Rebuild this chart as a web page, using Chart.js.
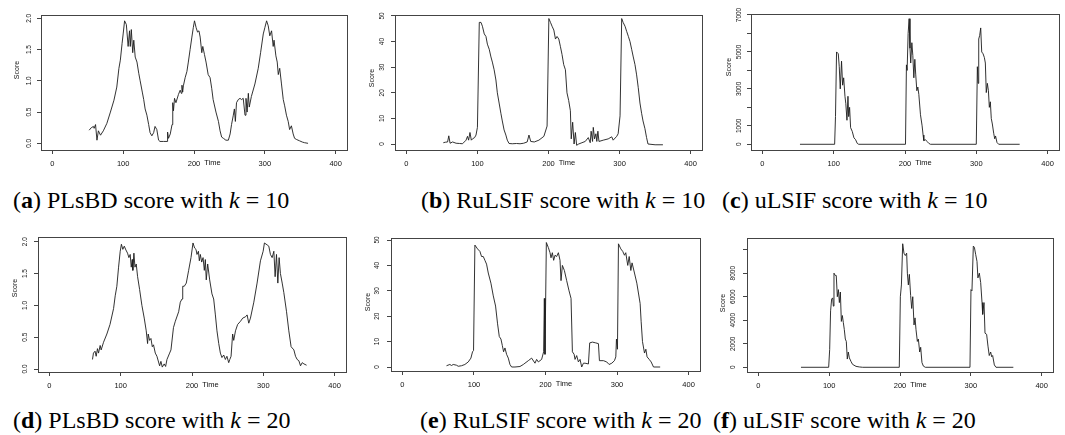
<!DOCTYPE html>
<html><head><meta charset="utf-8">
<script src="https://cdn.jsdelivr.net/npm/chart.js@4.4.1/dist/chart.umd.min.js"></script>
<style>
html,body{margin:0;padding:0;background:#fff;}
body{width:1065px;height:435px;position:relative;overflow:hidden;}
canvas{position:absolute;}
.cap{position:absolute;font-family:"Liberation Serif","Times New Roman",serif;font-size:24px;line-height:24px;white-space:nowrap;color:#000;}
</style></head><body>
<canvas id="ca"></canvas><canvas id="cb"></canvas><canvas id="cc"></canvas>
<canvas id="cd"></canvas><canvas id="ce"></canvas><canvas id="cf"></canvas>
<div class="cap" style="left:13px;top:188px">(<b>a</b>) PLsBD score with <i>k</i> = 10</div>
<div class="cap" style="left:421px;top:188px">(<b>b</b>) RuLSIF score with <i>k</i> = 10</div>
<div class="cap" style="left:722px;top:188px">(<b>c</b>) uLSIF score with <i>k</i> = 10</div>
<div class="cap" style="left:13px;top:408px">(<b>d</b>) PLsBD score with <i>k</i> = 20</div>
<div class="cap" style="left:420px;top:408px">(<b>e</b>) RuLSIF score with <i>k</i> = 20</div>
<div class="cap" style="left:713px;top:408px">(<b>f</b>) uLSIF score with <i>k</i> = 20</div>
<script>
// ---- tick values / labels ----
const xTicks = [0, 100, 200, 300, 400];
const yTicksPL = [0, 0.5, 1, 1.5, 2];
const yLabelsPL = ['0.0', '0.5', '1.0', '1.5', '2.0'];
const yTicksRu = [0, 10, 20, 30, 40, 50];
const yLabelsRu = ['0', '10', '20', '30', '40', '50'];
const yTicksU10 = [0, 1000, 2000, 3000, 4000, 5000, 6000, 7000];
const yLabelsU10 = ['0', '1000', '', '3000', '', '5000', '', '7000'];
const yTicksU20 = [0, 2000, 4000, 6000, 8000, 10000];
const yLabelsU20 = ['0', '2000', '4000', '6000', '8000', ''];

// ---- (a) PLsBD k=10 ----
const timeA = [52,55,58,59,61,63,65,68,72,77,82,87,91,94,96,98.5,100,102,104.5,107,109,110,111.5,113.5,115,117,119.5,122,124,127,129,131,133.5,136,138,140.5,143,145,147.5,150,152,157,162,162.7,164,166.5,169,170,171,172.5,174.5,178,180.5,182,183,184,185,187.5,190,192,194.5,197,199,200.7,203,205,207,208.7,211,212.4,214.8,217,220,222.7,225,227,231,234.5,236.8,239,241.5,245,248.5,251,253,255.5,257,258.4,260,262.5,265,267,269.5,272,273.4,275,276.7,278,281,286,290.7,294,297.8,300,302.5,304.8,307,309.5,311.8,313,315.6,317.5,319,321,323.5,326,328,330.5,333,335,337.5,340,342,345,349,353,356,361];
const scoreA = [0.21,0.25,0.27,0.24,0.3,0.05,0.2,0.13,0.2,0.32,0.5,0.69,0.9,1.2,1.33,1.6,1.75,1.96,1.9,1.55,1.8,1.55,1.82,1.45,1.65,1.38,1.3,1.12,1.0,0.82,0.7,0.55,0.45,0.3,0.17,0.12,0.17,0.27,0.22,0.05,0.03,0.03,0.03,0.18,0.08,0.15,0.3,0.65,0.52,0.72,0.65,0.78,0.85,0.8,0.93,0.82,0.92,1.05,1.15,1.3,1.5,1.7,1.85,1.96,1.85,1.78,1.8,1.7,1.45,1.55,1.42,1.3,1.1,1.05,0.88,0.7,0.5,0.35,0.2,0.1,0.08,0.05,0.05,0.15,0.3,0.45,0.55,0.35,0.65,0.7,0.72,0.7,0.72,0.45,0.72,0.5,0.8,0.58,0.75,0.95,1.2,1.45,1.75,1.85,1.96,1.88,1.72,1.8,1.55,1.65,1.4,1.3,1.1,1.2,0.95,0.7,0.6,0.45,0.35,0.22,0.28,0.15,0.08,0.06,0.04,0.02,0.01,0.0];

// ---- (b) RuLSIF k=10 ----
const timeB = [52,55,58,59.7,61.5,65,70,75,79,84,86,87.6,89.5,91.4,93,96,98,100,102.6,105,107,109.6,112,114,116.6,119,121,123.5,126,128,130.5,133,135,137.5,140,142,144.5,149,155,160,165,170,172.5,175,180,186.5,193.5,198,200.5,202.8,205,207.5,209.8,212,214.5,216.8,219,221.4,223.8,226,228.4,230.8,232,234,236,237.8,239.6,242.4,247,251.7,256,258.7,260,262,263,264.8,266.7,268,269.5,271,277,284,289,291,296,298,300.7,303,305,307.7,310,312.4,314.7,317,319.3,321.7,324,326.3,328.7,331,333,335.7,338,340,350,361];
const scoreB = [0.5,0.7,0.8,3.2,0.3,0.8,0.3,0.2,0.1,1.5,3,1.5,4.5,1.5,2,2.5,3.5,6.5,47.5,47.5,46,43,42,39,37,34,32,29,25,20,16,12,9,5.5,3.5,1.5,0.2,0.1,0.2,0.1,0.3,0.8,3.5,1,0.8,1.5,3,7,49,47.5,46,44.5,41,42,41,38,35,31,29,20,17,13,2,8.5,0,4.5,-0.5,0,0.5,1,2.5,0.5,5,1,6.5,2,4,1,5,1,1.5,2,2.8,1.5,3,4,11,49,47.5,46,44,42,40,37,34,31,27,22,16,12,9,6,2.5,0,-0.3,-0.3];

// ---- (c) uLSIF k=10 ----
const timeC = [52.7,101.3,102.5,104,106.4,107.8,109.2,111,112.5,114,115.8,117,118.6,120,121,122.3,123.7,126,128.4,130.7,133,135,200.7,202,203,204.4,205.8,207,208,209.6,211,212.4,213.8,215,216.6,218,219.4,221.7,224,225.4,226.4,228.7,231,233.4,235.7,300,301.5,302.5,303.4,304.8,306.2,307.6,309.5,311.3,312.7,314,315.5,317,318.3,319.7,321,322.5,324.4,325.8,327,329,331.4,360.8];
const scoreC = [0,0,1500,5000,4900,4200,3000,4500,3200,3600,2600,2200,1300,2600,1500,2000,900,700,350,250,50,0,0,4300,4000,6000,6800,5200,4400,5500,4800,3600,4600,3800,2900,3100,2700,1600,1000,500,200,250,150,50,0,0,4200,3300,5700,5900,6300,5000,4900,4700,4400,2800,3300,2900,2000,2300,1400,1100,600,300,450,100,0,0];

// ---- (d) PLsBD k=20 ----
const timeD = [60.4,61.8,64,65.6,67.4,68.9,71.2,72.6,75.9,80.6,85,90,92.3,94.6,97,99.3,101,103,105,107.3,109.6,111.5,113.3,114.8,116.2,117,118.5,120,121.8,123.7,126.5,129.7,133,135.8,137.7,138.6,140.5,142.4,144.3,146,148.5,150.8,154.6,156.4,158.3,161,163,164.9,168.6,170.5,174,176.6,181.3,183.6,186,187,189.2,192,195.3,198.6,201.4,203.7,205.6,207,209,210.3,211.7,213.6,215.5,217.3,218.7,220,222,224.8,228,230.4,232.8,235,237.5,239.8,242,244.5,246.8,249,251.5,253,254.8,257,258.5,261,264,268,271.2,275,277.3,279.6,282,286.7,291.3,296,299.8,301.6,305.4,307.7,310,312.4,314.8,316.6,318.5,320.4,322.2,324,326.5,328.8,332.6,335.8,339,342.9,345.2,347.5,349.9,352.2,354.6,357,360.7];
const scoreD = [0.15,0.25,0.28,0.2,0.32,0.25,0.37,0.3,0.42,0.55,0.7,0.95,1.15,1.3,1.6,1.85,1.96,1.88,1.93,1.87,1.82,1.75,1.8,1.6,1.72,1.55,1.82,1.6,1.65,1.45,1.25,1.0,0.8,0.6,0.4,0.55,0.45,0.48,0.35,0.38,0.25,0.2,0.05,0.12,0.03,0.08,0.04,0.15,0.25,0.3,0.65,0.75,0.9,1.05,1.1,1.3,1.3,1.35,1.55,1.75,1.98,1.9,1.88,1.8,1.85,1.7,1.8,1.68,1.75,1.55,1.72,1.4,1.65,1.4,1.18,1.1,0.85,0.6,0.4,0.25,0.18,0.22,0.15,0.2,0.1,0.15,0.2,0.55,0.45,0.6,0.7,0.75,0.8,0.82,0.85,0.72,0.8,1.05,1.35,1.7,1.85,1.98,1.95,1.93,1.8,1.75,1.85,1.45,1.8,1.35,1.75,1.5,1.35,1.2,0.9,0.6,0.35,0.3,0.2,0.15,0.13,0.05,0.1,0.08,0.06];

// ---- (e) RuLSIF k=20 ----
const timeE = [61.6,66.3,68.6,71,75.6,78,82.6,87.3,92,95.7,98,99.4,101.3,105,108.3,110.6,113,115.3,117.6,120,123.7,127,130.2,133,135.4,137.7,139.6,141.4,143.3,145.6,148,150.3,152.6,157.3,164.3,169,171.3,176,180.6,185.3,187.6,190,194.6,197.4,198.4,199.3,201.2,204,206.3,207.7,209.6,211.4,213.3,215.6,218,220.3,221.7,223.6,226.4,229.6,232.9,235.7,237.6,240,241.3,243.6,246,248.3,250.6,253,255.3,260,261.8,265.6,270.2,274,275.4,281,285.6,288.9,292.7,296.4,298.3,299.2,300.6,302,305.3,308,310.4,312.2,315,317,319.3,321,324.4,327.7,332.3,333.7,335.6,338.4,340.3,342,345,347.7,351,360.3];
const scoreE = [0.5,1.0,0.6,1.0,0.7,0.3,0.5,1,2,3.5,6,6.5,48,46.5,45.5,43.5,43.5,42,40.5,37,33,28,24,17,12,11,8.5,6,7.5,5,3.5,1,0,0,0.2,1.0,1.5,2.5,3.5,1.5,3,2,3,6,27,5,49,47,45,43,45,42,44,43.5,45,42,34,40,38,34,30,27,6,5,3,4.5,2,3,0,1.5,1.5,1.2,9.5,9.8,9.5,9.2,2.5,2.5,2,1,1.5,2.5,4,11,7,48.5,46.5,45.5,44,45,40,43.5,38,41,37,33,25,18,10,5.5,7,4,3,2,0,0];

// ---- (f) uLSIF k=20 ----
const timeF = [60.2,99.3,100.7,102,103.5,105,105.9,106.8,108.7,110,111.5,113,114.4,115.8,117.2,118.6,120,121.4,122.8,124.2,125.6,127,128.5,130.8,133,137.9,142.6,147.3,199,200.5,202,203.8,205.6,207.5,209.4,210.4,211.8,213.2,215,216.5,218,219.8,221.2,222.6,224.5,225.9,227.8,229.2,231,233,235.8,298.8,300.2,301.6,303.5,305,306.8,308.7,310,312,313.9,315.8,316.7,318.6,320,322.3,324.2,326,328,329.4,330.8,333.2,335.5,360];
const scoreF = [0,0,1500,4800,5800,5900,5200,8000,7800,7800,6000,6600,5500,6400,3900,4400,3800,3200,2400,2200,700,1300,800,500,250,80,30,0,0,6000,7000,10500,9700,9500,9700,8000,7000,7900,6100,5000,6000,3600,4200,3200,2200,2400,1300,1700,400,100,0,0,6600,6500,10300,10200,9600,9000,7600,8000,7200,5500,4500,5500,2900,2800,1800,1000,1300,900,1000,200,0,0];

const FONT = '"Liberation Sans", Arial, Helvetica, sans-serif';
const YW = 10, XH = 20;

const panels = [
  {id:'ca', cx:0,   cy:0,   cw:355, ch:182, box:[41,15,347,150],   ymin:-0.107, ymax:2.053, yT:yTicksPL, yL:yLabelsPL, t:timeA, s:scoreA, score:[17,70],   yLabX:29.3},
  {id:'cb', cx:355, cy:0,   cw:355, ch:182, box:[395,15,702,150],  ymin:-2.34,  ymax:50.39, yT:yTicksRu, yL:yLabelsRu, t:timeB, s:scoreB, score:[371.7,78], yLabX:382.3},
  {id:'cc', cx:710, cy:0,   cw:355, ch:182, box:[751,14,1059,150], ymin:-309,   ymax:7054,  yT:yTicksU10, yL:yLabelsU10, t:timeC, s:scoreC, score:[729,67], yLabX:739.3},
  {id:'cd', cx:0,   cy:216, cw:355, ch:182, box:[38,237,346,372],  ymin:-0.047, ymax:2.074, yT:yTicksPL, yL:yLabelsPL, t:timeD, s:scoreD, score:[15,288],  yLabX:25},
  {id:'ce', cx:355, cy:216, cw:355, ch:182, box:[391,238,700,371], ymin:-1.57,  ymax:50.79, yT:yTicksRu, yL:yLabelsRu, t:timeE, s:scoreE, score:[367.7,302], yLabX:377.3},
  {id:'cf', cx:710, cy:216, cw:355, ch:182, box:[747,238,1053,372], ymin:-400,  ymax:10990, yT:yTicksU20, yL:yLabelsU20, t:timeF, s:scoreF, score:[722.7,303], yLabX:733.3}
];

const rFrame = {
  id: 'rFrame',
  afterDraw(chart) {
    const cfg = chart.options.plugins.rFrame;
    const ctx = chart.ctx, a = chart.chartArea, ys = chart.scales.y;
    ctx.save();
    ctx.strokeStyle = '#444'; ctx.lineWidth = 1;
    ctx.strokeRect(Math.round(a.left) + 0.5, Math.round(a.top) + 0.5, Math.round(a.right - a.left), Math.round(a.bottom - a.top));
    ctx.fillStyle = '#111';
    ctx.textAlign = 'center'; ctx.textBaseline = 'middle';
    ctx.font = '6.5px ' + FONT;
    cfg.yT.forEach((v, i) => {
      const lab = cfg.yL[i];
      if (!lab) return;
      const y = ys.getPixelForValue(v);
      ctx.save(); ctx.translate(cfg.yLabX, y); ctx.rotate(-Math.PI / 2); ctx.fillText(lab, 0, 0); ctx.restore();
    });
    ctx.font = '7px ' + FONT;
    ctx.save(); ctx.translate(cfg.scoreX, cfg.scoreY); ctx.rotate(-Math.PI / 2); ctx.fillText('Score', 0, 0); ctx.restore();
    ctx.font = '7.5px ' + FONT;
    ctx.fillText('Time', a.left + 0.56 * (a.right - a.left), a.bottom + 13);
    ctx.restore();
  }
};

panels.forEach(p => {
  const cv = document.getElementById(p.id);
  cv.width = p.cw; cv.height = p.ch;
  cv.style.left = p.cx + 'px'; cv.style.top = p.cy + 'px';
  cv.style.width = p.cw + 'px'; cv.style.height = p.ch + 'px';
  const [L, T, R, B] = p.box;
  const pad = {left: L - p.cx - YW, top: T - p.cy, right: p.cx + p.cw - R, bottom: p.cy + p.ch - B - XH};
  const gridOpts = {drawOnChartArea: false, drawTicks: true, tickLength: 4, color: '#444', lineWidth: 1};
  new Chart(cv, {
    type: 'line',
    data: {datasets: [{
      data: p.t.map((x, i) => ({x: x, y: p.s[i]})),
      borderColor: '#1c1c1c', borderWidth: 0.9, pointRadius: 0, tension: 0, fill: false
    }]},
    options: {
      responsive: false, animation: false, devicePixelRatio: 1,
      layout: {padding: pad},
      plugins: {legend: {display: false}, tooltip: {enabled: false},
        rFrame: {yT: p.yT, yL: p.yL, yLabX: p.yLabX - p.cx, scoreX: p.score[0] - p.cx, scoreY: p.score[1] - p.cy}},
      scales: {
        x: {type: 'linear', min: -16, max: 416,
            afterBuildTicks: s => { s.ticks = xTicks.map(v => ({value: v})); },
            afterFit: s => { s.height = XH; },
            grid: gridOpts, border: {display: false},
            ticks: {font: {size: 7.5, family: FONT}, color: '#111', padding: 5.5, maxRotation: 0, minRotation: 0, autoSkip: false,
                    callback: v => String(v)}},
        y: {type: 'linear', min: p.ymin, max: p.ymax,
            afterBuildTicks: s => { s.ticks = p.yT.map(v => ({value: v})); },
            afterFit: s => { s.width = YW; },
            grid: gridOpts, border: {display: false},
            ticks: {display: false}}
      }
    },
    plugins: [rFrame]
  });
});
</script>
</body></html>
